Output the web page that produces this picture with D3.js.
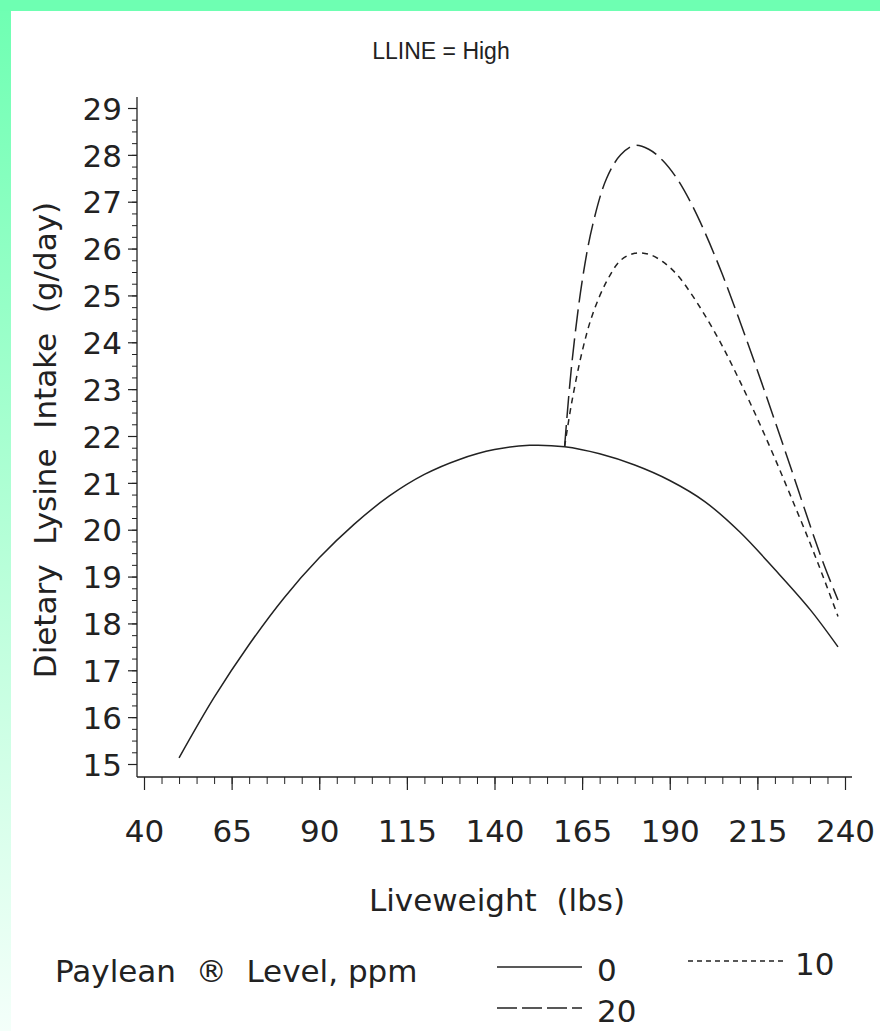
<!DOCTYPE html>
<html><head><meta charset="utf-8">
<script src="https://cdn.jsdelivr.net/npm/d3@7/dist/d3.min.js"></script>
<style>html,body{margin:0;padding:0;background:#fff}svg{display:block}</style>
</head><body>
<script>
// ---- data ----
const titleText = "LLINE = High";
const yTitle = "Dietary  Lysine  Intake  (g/day)";
const xTitle = "Liveweight  (lbs)";
const legendTitle = "Paylean  \u00AE  Level, ppm";
const xTicks = [40, 65, 90, 115, 140, 165, 190, 215, 240];
const yTicks = [15,16,17,18,19,20,21,22,23,24,25,26,27,28,29];
const seriesNames = ["0", "10", "20"];
const w0 = [50,60,70,80,90,100,110,120,130,140,150,160,170,180,190,200,210,220,230,238];
const v0 = [15.13,16.42,17.55,18.55,19.4,20.12,20.72,21.18,21.5,21.71,21.8,21.77,21.62,21.38,21.05,20.6,19.95,19.15,18.3,17.5];
const w10 = [160,162,165,168,172,176,180,184,188,192,196,200,205,210,215,220,225,230,234,238];
const v10 = [21.77,22.7,23.8,24.6,25.3,25.75,25.9,25.88,25.72,25.45,25.05,24.58,23.92,23.17,22.37,21.52,20.63,19.72,18.95,18.15];
const w20 = [160,162,165,168,172,176,180,184,188,192,196,200,205,210,215,220,225,230,234,238];
const v20 = [21.77,23.5,25.3,26.5,27.5,28.0,28.2,28.12,27.88,27.5,26.98,26.35,25.45,24.45,23.4,22.32,21.22,20.1,19.25,18.5];

const W = 880, H = 1031;
const ink = "#222";
const font = "'DejaVu Sans', Verdana, sans-serif";
const fontTitle = "'Liberation Sans', Arial, Helvetica, sans-serif";

const svg = d3.select("body").append("svg").attr("width", W).attr("height", H)
  .style("font-family", font);

// background frame
const defs = svg.append("defs");
const g1 = defs.append("linearGradient").attr("id","lg").attr("x1",0).attr("y1",0).attr("x2",0).attr("y2",1);
g1.append("stop").attr("offset","0%").attr("stop-color","#6effb2");
g1.append("stop").attr("offset","55%").attr("stop-color","#b8ffd9");
g1.append("stop").attr("offset","100%").attr("stop-color","#f4fffa");
svg.append("rect").attr("x",0).attr("y",0).attr("width",W).attr("height",H).attr("fill","#fff");
svg.append("rect").attr("x",0).attr("y",0).attr("width",11).attr("height",H).attr("fill","url(#lg)");
svg.append("rect").attr("x",0).attr("y",0).attr("width",W).attr("height",11).attr("fill","#6effb2");

const x = d3.scaleLinear().domain([40, 240]).range([144, 845]);
const y = d3.scaleLinear().domain([15, 29]).range([764, 108]);

// title
svg.append("text").attr("x", 441).attr("y", 59).attr("text-anchor","middle")
  .attr("font-family", fontTitle).attr("font-size", 23).attr("fill", ink)
  .style("white-space","pre").text(titleText);

// axes lines
const axisY0 = 777, axisX0 = 137;
svg.append("line").attr("x1", axisX0).attr("x2", axisX0).attr("y1", y(29) - 11).attr("y2", axisY0)
  .attr("stroke", ink).attr("stroke-width", 1.3);
svg.append("line").attr("x1", axisX0).attr("x2", x(240) + 7).attr("y1", axisY0).attr("y2", axisY0)
  .attr("stroke", ink).attr("stroke-width", 1.3);

// y axis ticks
const yMinor = d3.range(15, 29.001, 0.25);
const yAx = svg.append("g").attr("transform", `translate(${axisX0},0)`);
yAx.call(d3.axisLeft(y).tickValues(yMinor).tickSize(5).tickFormat(""))
  .call(g => g.select(".domain").remove())
  .call(g => g.selectAll("line").attr("stroke", ink).attr("stroke-width", 1));
const yAx2 = svg.append("g").attr("transform", `translate(${axisX0},0)`);
yAx2.call(d3.axisLeft(y).tickValues(yTicks).tickSize(9).tickPadding(6).tickFormat(d3.format("d")))
  .call(g => g.select(".domain").remove())
  .call(g => g.selectAll("line").attr("stroke", ink).attr("stroke-width", 1.2))
  .call(g => g.selectAll("text").attr("font-size", 31).attr("font-family", font).attr("fill", ink).attr("dy","0.36em"));

// x axis ticks
const xMinor = d3.range(40, 240.001, 5);
const xAx = svg.append("g").attr("transform", `translate(0,${axisY0})`);
xAx.call(d3.axisBottom(x).tickValues(xMinor).tickSize(7).tickFormat(""))
  .call(g => g.select(".domain").remove())
  .call(g => g.selectAll("line").attr("stroke", ink).attr("stroke-width", 1));
const xAx2 = svg.append("g").attr("transform", `translate(0,${axisY0})`);
xAx2.call(d3.axisBottom(x).tickValues(xTicks).tickSize(13).tickPadding(30).tickFormat(d3.format("d")))
  .call(g => g.select(".domain").remove())
  .call(g => g.selectAll("line").attr("stroke", ink).attr("stroke-width", 1.2))
  .call(g => g.selectAll("text").attr("font-size", 31).attr("font-family", font).attr("fill", ink));

// axis titles
svg.append("text").attr("transform", `translate(56,440) rotate(-90)`).attr("text-anchor","middle")
  .attr("font-size", 31).attr("fill", ink).style("white-space","pre").text(yTitle);
svg.append("text").attr("x", 497).attr("y", 911).attr("text-anchor","middle")
  .attr("font-size", 31).attr("fill", ink).style("white-space","pre").text(xTitle);

// curves
const line = d3.line().x(d => x(d[0])).y(d => y(d[1])).curve(d3.curveCatmullRom.alpha(0.5));
const s0 = w0.map((w,i)=>[w, v0[i]]);
const s10 = w10.map((w,i)=>[w, v10[i]]);
const s20 = w20.map((w,i)=>[w, v20[i]]);
const dashes = {"0": null, "10": "6,5", "20": "22,7"};
const plot = svg.append("g").attr("fill","none").attr("stroke", ink).attr("stroke-width", 1.5);
plot.append("path").attr("d", line(s20)).attr("stroke-dasharray", dashes["20"]);
plot.append("path").attr("d", line(s10)).attr("stroke-dasharray", dashes["10"]);
plot.append("path").attr("d", line(s0));

// legend
svg.append("text").attr("x", 55).attr("y", 982).attr("font-size", 31).attr("fill", ink)
  .style("white-space","pre").text(legendTitle);
const leg = [
  {name: seriesNames[0], x1: 497, x2: 582, ly: 967, tx: 597},
  {name: seriesNames[1], x1: 688, x2: 783, ly: 961, tx: 795},
  {name: seriesNames[2], x1: 497, x2: 582, ly: 1008, tx: 597}
];
leg.forEach(l => {
  svg.append("line").attr("x1", l.x1).attr("x2", l.x2).attr("y1", l.ly).attr("y2", l.ly)
    .attr("stroke", ink).attr("stroke-width", 1.5).attr("stroke-dasharray", l.name === "10" ? "5,4" : (l.name === "20" ? "20,5" : null));
  svg.append("text").attr("x", l.tx).attr("y", l.ly + 14).attr("font-size", 31).attr("fill", ink).text(l.name);
});
</script>
</body></html>
